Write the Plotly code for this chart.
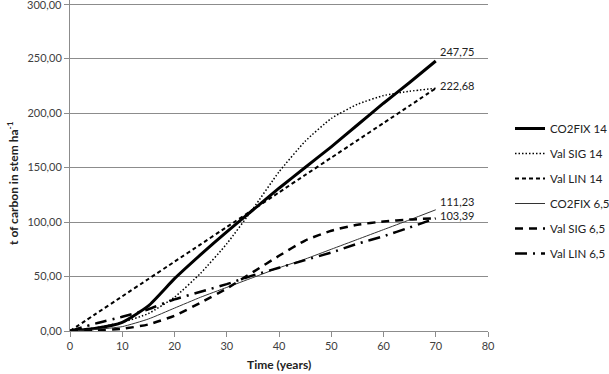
import plotly.graph_objects as go

years = [0, 5, 10, 15, 20, 25, 30, 35, 40, 45, 50, 55, 60, 65, 70]

co2fix_14 = [0, 2.5, 8, 23, 48, 70, 91, 111, 131, 150, 169, 189, 209, 228, 247.75]
val_sig_14 = [0, 3, 8, 16, 31, 53, 80, 112, 146, 174, 195, 208, 216, 220, 222.68]
val_lin_14 = [0, 15.9, 31.8, 47.7, 63.6, 79.5, 95.4, 111.3, 127.2, 143.1, 159, 174.9, 190.8, 206.7, 222.68]
co2fix_65 = [0, 1.5, 4, 11, 21, 31, 40, 49, 58, 66, 75, 84, 93, 102, 111.23]
val_sig_65 = [0, 0.5, 2, 6, 14, 26, 39, 54, 69, 83, 92, 97.5, 100.5, 102.3, 103.39]
val_lin_65 = [0, 7, 13, 20, 29, 36, 43, 51, 58, 65, 72, 80, 87, 95, 103.39]

series_names = ["CO2FIX 14", "Val SIG 14", "Val LIN 14", "CO2FIX 6,5", "Val SIG 6,5", "Val LIN 6,5"]
series_values = [co2fix_14, val_sig_14, val_lin_14, co2fix_65, val_sig_65, val_lin_65]

x_ticks = [0, 10, 20, 30, 40, 50, 60, 70, 80]
y_ticks = [0, 50, 100, 150, 200, 250, 300]


def fmt(v):
    return f"{v:.2f}".replace(".", ",")


# styles
styles = [
    dict(width=3, dash="solid", color="black"),
    dict(width=1.5, dash="1.5px,2px", color="black"),
    dict(width=2, dash="4px,3px", color="black"),
    dict(width=1, dash="solid", color="#333333"),
    dict(width=2.5, dash="8px,6px", color="black"),
    dict(width=2.5, dash="12px,6px,2px,6px", color="black"),
]

W, H = 609, 374
L, R, T, B = 70, 121, 0, 43
PW, PH = W - L - R, H - T - B
Y_MAX = 303.7

FONT = "Lato, Open Sans, sans-serif"

fig = go.Figure()
for i, (name, vals, st) in enumerate(zip(series_names, series_values, styles)):
    fig.add_trace(go.Scatter(
        x=years, y=vals, name=name, mode="lines",
        line=dict(color=st["color"], width=st["width"], dash=st["dash"], shape="spline", smoothing=0.5),
        legendgroup=f"g{i}",
    ))

# end-point data labels
label_series = [(co2fix_14, 9), (val_sig_14, 3), (co2fix_65, 8), (val_sig_65, 3)]
annotations = []
for vals, ys in label_series:
    annotations.append(dict(
        x=years[-1], y=vals[-1], xref="x", yref="y",
        text=fmt(vals[-1]),
        showarrow=False, xanchor="left", yanchor="middle",
        xshift=2, yshift=ys,
        font=dict(family=FONT, size=11, color="#222222"),
    ))

# top y tick label (plotly hides labels crossing the figure edge)
y_ticktext = [fmt(v) for v in y_ticks[:-1]] + [""]
annotations.append(dict(
    x=0, y=y_ticks[-1], xref="paper", yref="y",
    text=fmt(y_ticks[-1]), showarrow=False, xanchor="right", yanchor="middle",
    xshift=-6, font=dict(family=FONT, size=11, color="#404040"),
))

# axis titles
annotations.append(dict(
    x=0.5, y=-(364 - (H - B)) / PH, xref="paper", yref="paper",
    text="<b>Time (years)</b>", showarrow=False, xanchor="center", yanchor="middle",
    font=dict(family=FONT, size=12, color="#222222"),
))
annotations.append(dict(
    x=-(L - 13) / PW, y=1 - (183 - T) / PH, xref="paper", yref="paper",
    text="<b>t of carbon in stem ha<sup>-1</sup></b>", showarrow=False, textangle=-90,
    xanchor="center", yanchor="middle",
    font=dict(family=FONT, size=12, color="#222222"),
))

fig.update_layout(
    width=W, height=H, autosize=False,
    margin=dict(l=L, r=R, t=T, b=B, autoexpand=False),
    paper_bgcolor="white", plot_bgcolor="white",
    font=dict(family=FONT, size=11, color="#404040"),
    showlegend=True,
    legend=dict(
        xref="container", yref="container",
        x=510 / W, xanchor="left", y=1 - 114 / H, yanchor="top",
        font=dict(size=11.5, color="#222222"),
        tracegroupgap=6, bgcolor="rgba(0,0,0,0)",
    ),
    annotations=annotations,
    xaxis=dict(
        range=[0, 80], tickvals=x_ticks, showgrid=False, zeroline=False,
        showline=True, linecolor="#8c8c8c", linewidth=1,
        ticks="outside", ticklen=5, tickcolor="#8c8c8c",
        tickfont=dict(size=11, color="#404040"), automargin=False,
    ),
    yaxis=dict(
        range=[0, Y_MAX], tickvals=y_ticks, ticktext=y_ticktext,
        showgrid=True, gridcolor="#8c8c8c", gridwidth=1, zeroline=False,
        showline=True, linecolor="#8c8c8c", linewidth=1,
        ticks="outside", ticklen=5, tickcolor="#8c8c8c",
        tickfont=dict(size=11, color="#404040"), automargin=False,
    ),
)

fig.write_html(
    "out.html",
    config={"displayModeBar": False},
    post_script="document.body.style.margin='0';document.body.style.overflow='hidden';",
)
